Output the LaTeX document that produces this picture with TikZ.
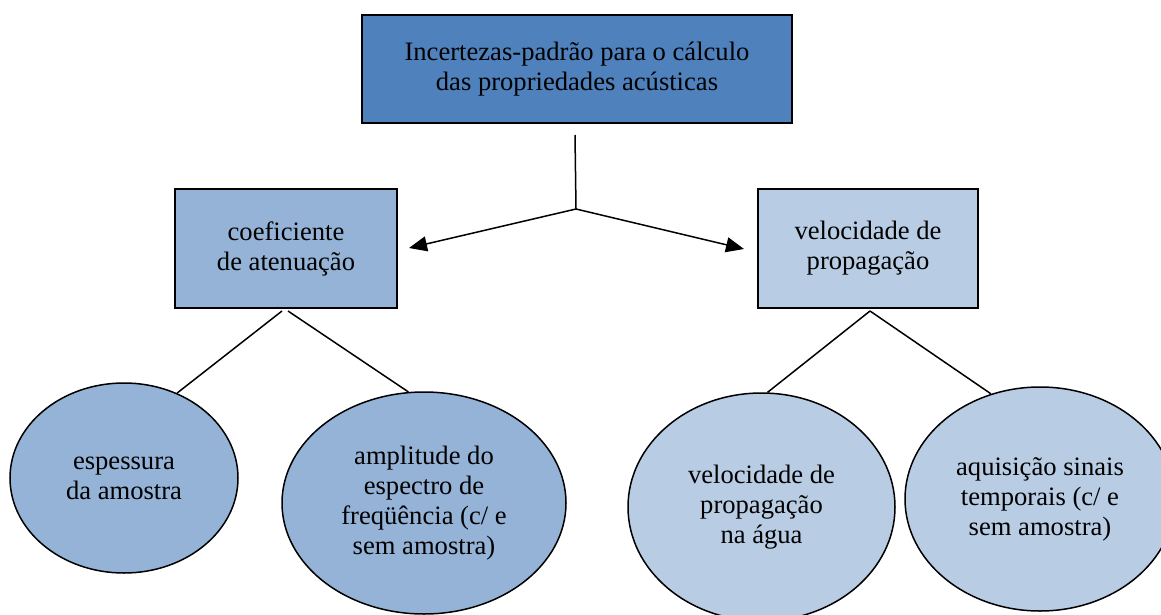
\documentclass[tikz,border=0pt]{standalone}
\usepackage{fontspec}
\setmainfont{Liberation Serif}
\usetikzlibrary{shapes.geometric,arrows.meta}
\definecolor{topblue}{HTML}{4F81BD}
\definecolor{midblue}{HTML}{95B3D7}
\definecolor{lightblue}{HTML}{B8CCE4}
\begin{document}
\begin{tikzpicture}[x=1pt,y=-1pt,
  txt/.style={font=\rmfamily\fontsize{26.6}{30}\selectfont, align=center, text=black},
  boxnode/.style={txt, draw=black, line width=1.5pt, rectangle, inner sep=0pt},
  ellnode/.style={txt, draw=black, line width=1.5pt, ellipse, inner sep=0pt},
  conn/.style={draw=black, line width=1.5pt},
  arr/.style={conn, -{Triangle[length=18pt,width=15pt]}}]
\useasboundingbox (0,0) rectangle (1161,615);
\clip (0,0) rectangle (1161,615);
\fill[white] (0,0) rectangle (1161,615);

% boxes
\node[boxnode, fill=topblue, minimum width=430pt, minimum height=108pt] (top) at (577,69)
  {Incertezas-padrão para o cálculo\\das propriedades acústicas};
\node[boxnode, fill=midblue, minimum width=222pt, minimum height=119pt] (lbox) at (286,248.5)
  {coeficiente\\de atenuação};
\node[boxnode, fill=lightblue, minimum width=220pt, minimum height=119pt] (rbox) at (868,248.5)
  {velocidade de\\propagação};

% ellipses
\node[ellnode, fill=midblue, minimum width=228pt, minimum height=190pt] (e1) at (124,478)
  {espessura\\da amostra};
\node[ellnode, fill=midblue, minimum width=284pt, minimum height=222pt] (e2) at (424,503)
  {amplitude do\\espectro de\\freqüência (c/ e\\sem amostra)};
\node[ellnode, fill=lightblue, minimum width=267pt, minimum height=228pt] (e3) at (761.5,507)
  {velocidade de\\propagação\\na água};
\node[ellnode, fill=lightblue, minimum width=270pt, minimum height=224pt] (e4) at (1040,499)
  {aquisição sinais\\temporais (c/ e\\sem amostra)};

% connector points
\coordinate (stemtop) at (575,135);
\coordinate (fork) at (576,209);
\coordinate (ltip) at (409,248);
\coordinate (rtip) at (744,249);
\coordinate (la) at (282,311);
\coordinate (lb) at (288,311);
\coordinate (ra) at (870,311);

\draw[conn] (stemtop) -- (fork);
\draw[arr] (fork) -- (ltip);
\draw[arr] (fork) -- (rtip);

\draw[conn] (la) -- (e1.58);
\draw[conn] (lb) -- (e2.98);
\draw[conn] (ra) -- (e3.87);
\draw[conn] (ra) -- (e4.115);
\end{tikzpicture}
\end{document}
